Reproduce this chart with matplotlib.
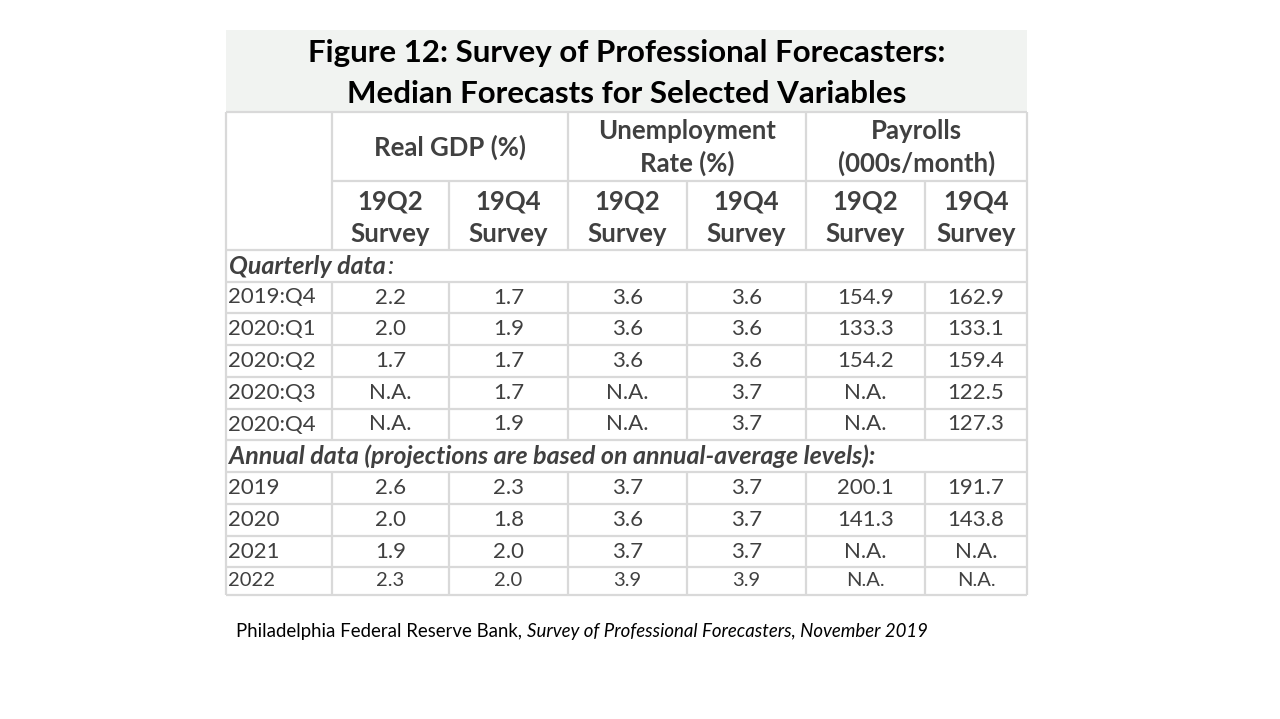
import matplotlib
matplotlib.use("Agg")
import matplotlib.pyplot as plt
from matplotlib.patches import Rectangle

# ---------------- data ----------------
title_lines = ["Figure 12: Survey of Professional Forecasters:",
               "Median Forecasts for Selected Variables"]
groups = ["Real GDP (%)", "Unemployment\nRate (%)", "Payrolls\n(000s/month)"]
subheaders = ["19Q2\nSurvey", "19Q4\nSurvey"] * 3
quarterly_label = "Quarterly data"
quarterly_rows = ["2019:Q4", "2020:Q1", "2020:Q2", "2020:Q3", "2020:Q4"]
quarterly_gdp_q2 = ["2.2", "2.0", "1.7", "N.A.", "N.A."]
quarterly_gdp_q4 = ["1.7", "1.9", "1.7", "1.7", "1.9"]
quarterly_unemp_q2 = ["3.6", "3.6", "3.6", "N.A.", "N.A."]
quarterly_unemp_q4 = ["3.6", "3.6", "3.6", "3.7", "3.7"]
quarterly_pay_q2 = ["154.9", "133.3", "154.2", "N.A.", "N.A."]
quarterly_pay_q4 = ["162.9", "133.1", "159.4", "122.5", "127.3"]
annual_label = "Annual data (projections are based on annual-average levels):"
annual_rows = ["2019", "2020", "2021", "2022"]
annual_gdp_q2 = ["2.6", "2.0", "1.9", "2.3"]
annual_gdp_q4 = ["2.3", "1.8", "2.0", "2.0"]
annual_unemp_q2 = ["3.7", "3.6", "3.7", "3.9"]
annual_unemp_q4 = ["3.7", "3.7", "3.7", "3.9"]
annual_pay_q2 = ["200.1", "141.3", "N.A.", "N.A."]
annual_pay_q4 = ["191.7", "143.8", "N.A.", "N.A."]
source_plain = "Philadelphia Federal Reserve Bank, "
source_italic = "Survey of Professional Forecasters, November 2019"

# ---------------- layout ----------------
FONT = "Lato"
W, H = 1280, 719
fig = plt.figure(figsize=(W / 100, H / 100), dpi=100)
ax = fig.add_axes([0, 0, 1, 1])
ax.set_xlim(0, W)
ax.set_ylim(H, 0)
ax.axis("off")

col_x = [226, 332, 449, 568, 687, 806, 925, 1027]
LINE = "#d9d9d9"
TXT = "#404040"
LW = 1.6
FS_BODY = 16
FS_HEAD = 18.5
FS_SECT = 18

# title band
ax.add_patch(Rectangle((226, 30), 801, 82, facecolor="#f1f3f1", edgecolor="none"))
ax.text(626.5, 53, title_lines[0], ha="center", va="center", fontsize=22.5,
        fontweight="bold", color="black", family=FONT)
ax.text(626.5, 94, title_lines[1], ha="center", va="center", fontsize=22.5,
        fontweight="bold", color="black", family=FONT)

def hline(y, x0=col_x[0], x1=col_x[-1]):
    ax.plot([x0, x1], [y, y], color=LINE, lw=LW, solid_capstyle="butt")

def vline(x, y0, y1):
    ax.plot([x, x], [y0, y1], color=LINE, lw=LW, solid_capstyle="butt")

h_top, h_mid, h_bot = 112, 181, 250
hline(h_top)
hline(h_mid, col_x[1], col_x[-1])
hline(h_bot)
vline(col_x[0], h_top, h_bot)
vline(col_x[-1], h_top, h_bot)
for gi in range(3):
    vline(col_x[1 + 2 * gi], h_top, h_bot)
    vline(col_x[2 + 2 * gi], h_mid, h_bot)
    cx = (col_x[1 + 2 * gi] + col_x[3 + 2 * gi]) / 2
    ax.text(cx, (h_top + h_mid) / 2 + 1, groups[gi], ha="center", va="center",
            fontsize=FS_HEAD, fontweight="bold", color=TXT, family=FONT, linespacing=1.35)
for ci, sh in enumerate(subheaders):
    cx = (col_x[1 + ci] + col_x[2 + ci]) / 2
    ax.text(cx, (h_mid + h_bot) / 2 + 2, sh, ha="center", va="center",
            fontsize=FS_HEAD, fontweight="bold", color=TXT, family=FONT, linespacing=1.4)

def section(y0, y1, label, italic_colon=False):
    vline(col_x[0], y0, y1)
    vline(col_x[-1], y0, y1)
    hline(y1)
    t = ax.text(col_x[0] + 3, (y0 + y1) / 2, label, ha="left", va="center",
                fontsize=FS_SECT, fontweight="bold", style="italic", color=TXT, family=FONT)
    if italic_colon:
        fig.canvas.draw()
        bb = t.get_window_extent()
        ax.text(bb.x1 + 1, (y0 + y1) / 2, ":", ha="left", va="center",
                fontsize=FS_SECT, style="italic", color=TXT, family=FONT)

def data_rows(y_edges, labels, cols, last_small=False):
    for r, lab in enumerate(labels):
        y0, y1 = y_edges[r], y_edges[r + 1]
        fsr = 14.5 if (last_small and r == len(labels) - 1) else FS_BODY
        for x in col_x:
            vline(x, y0, y1)
        hline(y1)
        ax.text(col_x[0] + 2, (y0 + y1) / 2, lab, ha="left", va="center",
                fontsize=fsr, color=TXT, family=FONT)
        for ci, colvals in enumerate(cols):
            cx = (col_x[1 + ci] + col_x[2 + ci]) / 2
            ax.text(cx, (y0 + y1) / 2, colvals[r], ha="center", va="center",
                    fontsize=fsr, color=TXT, family=FONT)

section(250, 282, quarterly_label, italic_colon=True)
data_rows([282, 313, 345, 377, 409, 440], quarterly_rows,
          [quarterly_gdp_q2, quarterly_gdp_q4, quarterly_unemp_q2,
           quarterly_unemp_q4, quarterly_pay_q2, quarterly_pay_q4])
section(440, 472, annual_label)
data_rows([472, 504, 536, 567, 595], annual_rows,
          [annual_gdp_q2, annual_gdp_q4, annual_unemp_q2,
           annual_unemp_q4, annual_pay_q2, annual_pay_q4], last_small=True)

# source
fig.canvas.draw()
t = ax.text(236, 631, source_plain, ha="left", va="center", fontsize=13.4,
            color="black", family=FONT)
fig.canvas.draw()
bb = t.get_window_extent()
ax.text(bb.x1, 631, source_italic, ha="left", va="center", fontsize=13.4,
        style="italic", color="black", family=FONT)

fig.savefig("out.png", dpi=100)
